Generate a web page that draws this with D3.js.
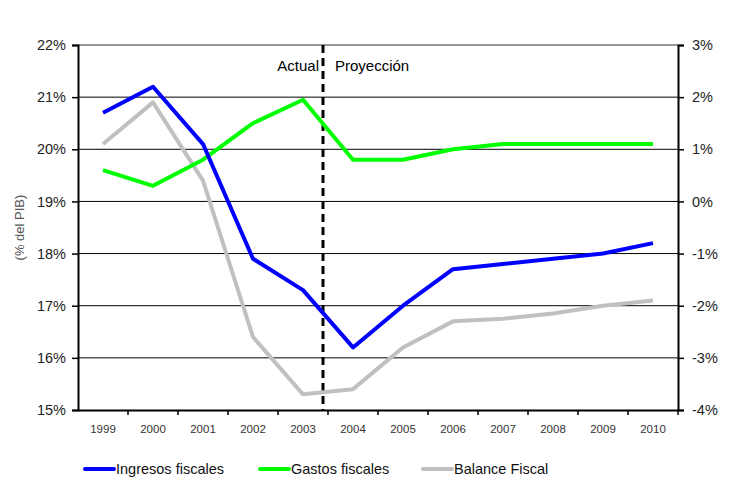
<!DOCTYPE html>
<html>
<head>
<meta charset="utf-8">
<script src="https://cdn.jsdelivr.net/npm/d3@7"></script>
<style>
  body { margin: 0; background: #fff; }
  text { font-family: "Liberation Sans", Arial, sans-serif; }
</style>
</head>
<body>
<div id="chart"></div>
<script>
// data
const years = ["1999","2000","2001","2002","2003","2004","2005","2006","2007","2008","2009","2010"];
const ingresos = [20.7, 21.2, 20.1, 17.9, 17.3, 16.2, 17.0, 17.7, 17.8, 17.9, 18.0, 18.2];
const gastos   = [19.6, 19.3, 19.8, 20.5, 20.95, 19.8, 19.8, 20.0, 20.1, 20.1, 20.1, 20.1];
const balance  = [1.1, 1.9, 0.4, -2.6, -3.7, -3.6, -2.8, -2.3, -2.25, -2.15, -2.0, -1.9];
const leftTicks = [15, 16, 17, 18, 19, 20, 21, 22];
const rightTicks = [-4, -3, -2, -1, 0, 1, 2, 3];
const splitAt = 4.4; // position (year index) where the projection starts

const width = 749, height = 479;
const margin = {top: 45, right: 71, bottom: 69, left: 78};

const svg = d3.select("#chart").append("svg")
    .attr("width", width)
    .attr("height", height);

const x = d3.scaleBand().domain(years).range([margin.left, width - margin.right]);
const xi = d3.scaleLinear().domain([0, years.length]).range([margin.left, width - margin.right]);
const yL = d3.scaleLinear().domain([15, 22]).range([height - margin.bottom, margin.top]);
const yR = d3.scaleLinear().domain([-4, 3]).range([height - margin.bottom, margin.top]);

// gridlines
svg.append("g")
    .selectAll("line")
    .data(leftTicks.slice(1, -1))
    .join("line")
    .attr("x1", margin.left).attr("x2", width - margin.right)
    .attr("y1", d => yL(d)).attr("y2", d => yL(d))
    .attr("stroke", "#000").attr("stroke-width", 1);

// top border (grey)
svg.append("line")
    .attr("x1", margin.left).attr("x2", width - margin.right)
    .attr("y1", yL(22)).attr("y2", yL(22))
    .attr("stroke", "#999").attr("stroke-width", 2);

// left axis
const gl = svg.append("g")
    .attr("transform", `translate(${margin.left},0)`)
    .call(d3.axisLeft(yL).tickValues(leftTicks).tickFormat(d => d + "%").tickSize(6).tickPadding(6));
gl.selectAll("text").attr("font-size", 14.5).attr("fill", "#222");

// right axis
const gr = svg.append("g")
    .attr("transform", `translate(${width - margin.right},0)`)
    .call(d3.axisRight(yR).tickValues(rightTicks).tickFormat(d => d + "%").tickSize(6).tickPadding(8));
gr.selectAll("text").attr("font-size", 14.5).attr("fill", "#222");

// x axis
const gx = svg.append("g")
    .attr("transform", `translate(0,${height - margin.bottom})`)
    .call(d3.axisBottom(x).tickSize(0).tickPadding(15));
gx.selectAll("text").attr("font-size", 11.5).attr("fill", "#333");
gx.selectAll(".sep")
    .data(d3.range(1, years.length + 1))
    .join("line")
    .attr("class", "sep")
    .attr("x1", d => xi(d)).attr("x2", d => xi(d))
    .attr("y1", 0).attr("y2", 5)
    .attr("stroke", "#000").attr("stroke-width", 1.5);

[gl, gr, gx].forEach(g => {
    g.select(".domain").attr("stroke", "#000").attr("stroke-width", 2);
    g.selectAll(".tick line").attr("stroke", "#000").attr("stroke-width", 1.5);
});

// y label
svg.append("text")
    .attr("transform", `translate(24,${(yL(15) + yL(22)) / 2}) rotate(-90)`)
    .attr("text-anchor", "middle")
    .attr("font-size", 13)
    .attr("fill", "#555")
    .text("(% del PIB)");

// dashed divider
const xs = xi(splitAt + 0.5);
svg.append("line")
    .attr("x1", xs).attr("x2", xs)
    .attr("y1", yL(22)).attr("y2", yL(15))
    .attr("stroke", "#000").attr("stroke-width", 3)
    .attr("stroke-dasharray", "8,5");
svg.append("text").attr("x", xs - 4).attr("y", 71)
    .attr("text-anchor", "end").attr("font-size", 15).text("Actual");
svg.append("text").attr("x", xs + 12).attr("y", 71)
    .attr("font-size", 15).text("Proyección");

// series
const series = [
    {name: "Ingresos fiscales", values: ingresos, y: yL, color: "#0000ff"},
    {name: "Gastos fiscales", values: gastos, y: yL, color: "#00ff00"},
    {name: "Balance Fiscal", values: balance, y: yR, color: "#c0c0c0"}
];
const cx = i => x(years[i]) + x.bandwidth() / 2;

svg.append("g")
    .selectAll("path")
    .data(series.slice().reverse())
    .join("path")
    .attr("fill", "none")
    .attr("stroke", d => d.color)
    .attr("stroke-width", 4)
    .attr("stroke-linejoin", "round")
    .attr("d", s => d3.line().x((v, i) => cx(i)).y(v => s.y(v))(s.values));

// legend
const legendX = [85, 260, 423];
const lg = svg.append("g")
    .selectAll("g")
    .data(series)
    .join("g")
    .attr("transform", (d, i) => `translate(${legendX[i]},469)`);
lg.append("line")
    .attr("x1", 0).attr("x2", 29)
    .attr("stroke", d => d.color).attr("stroke-width", 4).attr("stroke-linecap", "round");
lg.append("text")
    .attr("x", 31).attr("dy", "0.35em")
    .attr("font-size", 14.5)
    .attr("fill", "#111")
    .text(d => d.name);
</script>
</body>
</html>
